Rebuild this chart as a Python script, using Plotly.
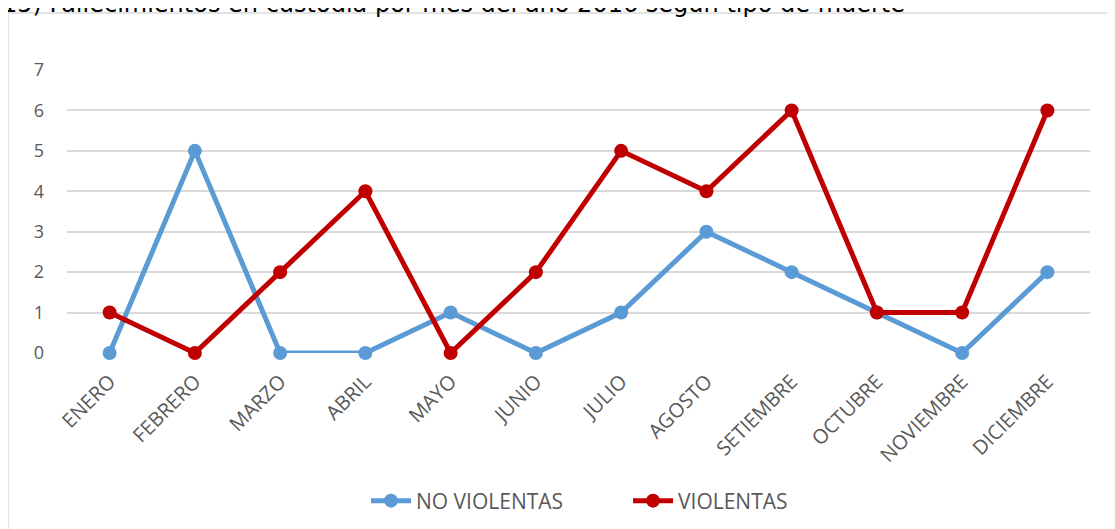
import plotly.graph_objects as go

months = ["ENERO", "FEBRERO", "MARZO", "ABRIL", "MAYO", "JUNIO", "JULIO",
          "AGOSTO", "SETIEMBRE", "OCTUBRE", "NOVIEMBRE", "DICIEMBRE"]
no_violentas = [0, 5, 0, 0, 1, 0, 1, 3, 2, 1, 0, 2]
violentas = [1, 0, 2, 4, 0, 2, 5, 4, 6, 1, 1, 6]
y_ticks = [0, 1, 2, 3, 4, 5, 6, 7]
title_text = "15) Fallecimientos en custodia por mes del año 2016 según tipo de muerte"

W, H = 1115, 529
OFF = 8  # page body margin
# desired page pixels: plot left 67, right 1090, top 70, bottom 353
L, T = 67 - OFF, 70 - OFF
R = W - (1090 - OFF)
B = H - (353 - OFF)
pw, ph = W - L - R, H - T - B

def px_x(x):
    return (x - OFF - L) / pw

def px_y(y):
    return (H - B - (y - OFF)) / ph

fig = go.Figure()
fig.add_trace(go.Scatter(
    x=months, y=no_violentas, name="NO VIOLENTAS", mode="lines+markers",
    line=dict(color="#5B9BD5", width=5), marker=dict(size=14, color="#5B9BD5"),
    cliponaxis=False))
fig.add_trace(go.Scatter(
    x=months, y=violentas, name="VIOLENTAS", mode="lines+markers",
    line=dict(color="#C00000", width=5), marker=dict(size=14, color="#C00000"),
    cliponaxis=False))

fig.update_layout(
    width=W, height=H,
    margin=dict(l=L, r=R, t=T, b=B, autoexpand=False),
    paper_bgcolor="white", plot_bgcolor="white",
    font=dict(family="Open Sans", size=18, color="#595959"),
    showlegend=True,
    legend=dict(orientation="h", x=px_x(366), xanchor="left", y=px_y(501), yanchor="middle",
                font=dict(size=21, color="#595959"), itemwidth=40,
                entrywidth=207, entrywidthmode="pixels"),
    xaxis=dict(type="category", range=[-0.5, 11.5], showgrid=False, showline=False,
               zeroline=False, tickangle=-45, ticks="", ticklabelstandoff=12,
               tickfont=dict(size=20, color="#595959")),
    yaxis=dict(range=[0, 7], tickvals=y_ticks, showgrid=True, gridcolor="#D9D9D9",
               gridwidth=2, zeroline=False, showline=False, ticks="",
               ticklabelstandoff=22, tickfont=dict(size=18, color="#595959")),
    shapes=[dict(type="rect", xref="paper", yref="paper",
                 x0=px_x(8), x1=px_x(1135), y0=px_y(555), y1=px_y(13),
                 line=dict(color="#D9D9D9", width=1.5), fillcolor="rgba(0,0,0,0)",
                 layer="below")],
    annotations=[dict(text=title_text, xref="paper", yref="paper",
                      x=px_x(0), y=px_y(20), xanchor="left", yanchor="bottom",
                      showarrow=False,
                      font=dict(family="DejaVu Sans", size=24, color="#000000"))],
)

fig.write_html("out.html")
